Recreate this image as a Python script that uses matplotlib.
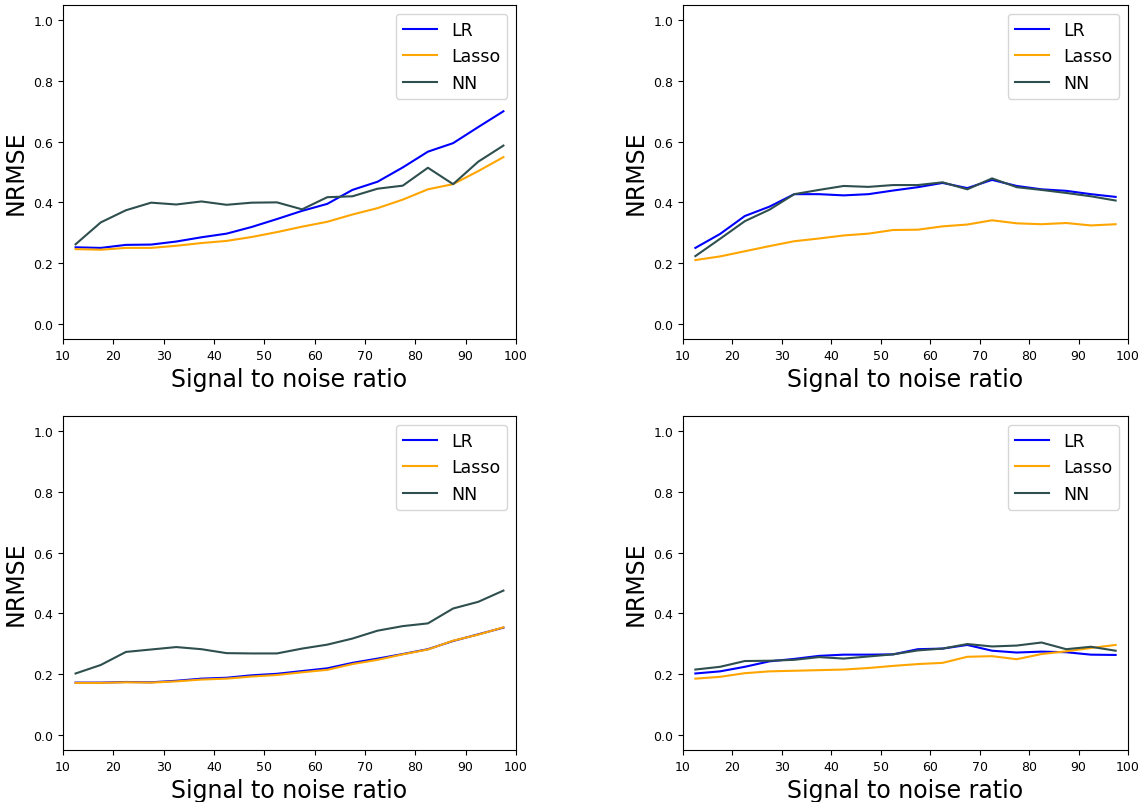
import numpy as np
import matplotlib
matplotlib.use("Agg")
import matplotlib.pyplot as plt

# SNR grid (bin centres)
snr = np.arange(12.5, 100, 5)

# Panel 1
lr_1 = [0.252, 0.250, 0.260, 0.261, 0.271, 0.285, 0.297, 0.319, 0.345, 0.372,
        0.395, 0.441, 0.468, 0.515, 0.567, 0.595, 0.648, 0.700]
lasso_1 = [0.246, 0.244, 0.250, 0.250, 0.257, 0.266, 0.273, 0.286, 0.302, 0.320,
           0.336, 0.360, 0.381, 0.409, 0.443, 0.460, 0.503, 0.549]
nn_1 = [0.262, 0.334, 0.374, 0.399, 0.393, 0.403, 0.392, 0.399, 0.400, 0.377,
        0.417, 0.420, 0.445, 0.455, 0.514, 0.460, 0.534, 0.587]

# Panel 2
lr_2 = [0.250, 0.296, 0.355, 0.386, 0.427, 0.427, 0.423, 0.427, 0.439, 0.450,
        0.464, 0.447, 0.474, 0.454, 0.443, 0.438, 0.427, 0.418]
lasso_2 = [0.210, 0.222, 0.239, 0.256, 0.272, 0.281, 0.291, 0.297, 0.309, 0.310,
           0.321, 0.327, 0.341, 0.331, 0.328, 0.332, 0.324, 0.328]
nn_2 = [0.223, 0.280, 0.338, 0.376, 0.427, 0.441, 0.454, 0.451, 0.457, 0.457,
        0.466, 0.443, 0.479, 0.450, 0.441, 0.431, 0.420, 0.406]

# Panel 3
lr_3 = [0.172, 0.172, 0.174, 0.173, 0.178, 0.185, 0.188, 0.196, 0.201, 0.210,
        0.219, 0.237, 0.251, 0.266, 0.282, 0.309, 0.331, 0.353]
lasso_3 = [0.171, 0.171, 0.173, 0.172, 0.176, 0.182, 0.185, 0.192, 0.197, 0.206,
           0.214, 0.233, 0.247, 0.265, 0.281, 0.310, 0.330, 0.354]
nn_3 = [0.202, 0.230, 0.273, 0.281, 0.289, 0.282, 0.269, 0.268, 0.268, 0.284,
        0.297, 0.317, 0.343, 0.358, 0.367, 0.416, 0.438, 0.475]

# Panel 4
lr_4 = [0.202, 0.209, 0.224, 0.242, 0.250, 0.260, 0.264, 0.264, 0.265, 0.282,
        0.284, 0.296, 0.277, 0.271, 0.274, 0.272, 0.264, 0.263]
lasso_4 = [0.185, 0.191, 0.203, 0.209, 0.211, 0.213, 0.215, 0.220, 0.227, 0.233,
           0.237, 0.257, 0.259, 0.249, 0.266, 0.275, 0.286, 0.296]
nn_4 = [0.215, 0.224, 0.243, 0.244, 0.247, 0.256, 0.251, 0.258, 0.265, 0.278,
        0.284, 0.299, 0.291, 0.294, 0.304, 0.282, 0.290, 0.277]

panels = [(lr_1, lasso_1, nn_1), (lr_2, lasso_2, nn_2),
          (lr_3, lasso_3, nn_3), (lr_4, lasso_4, nn_4)]

W, H = 1145, 803
fig = plt.figure(figsize=(W / 100, H / 100), dpi=100)

# axes boxes in pixels: left, top, right, bottom
boxes = [(63, 6, 516, 340), (683, 6, 1128, 340),
         (63, 417, 516, 751), (683, 417, 1128, 751)]

for (lr, lasso, nn), (l, t, r, b) in zip(panels, boxes):
    ax = fig.add_axes([l / W, (H - b) / H, (r - l) / W, (b - t) / H])
    ax.plot(snr, lr, color="blue", label="LR")
    ax.plot(snr, lasso, color="orange", label="Lasso")
    ax.plot(snr, nn, color="darkslategray", label="NN")
    ax.set_xlim(10, 100)
    ax.set_ylim(-0.05, 1.05)
    ax.set_xticks(np.arange(10, 101, 10))
    ax.set_yticks(np.arange(0, 1.01, 0.2))
    ax.tick_params(labelsize=9)
    ax.set_xlabel("Signal to noise ratio", fontsize=17)
    ax.set_ylabel("NRMSE", fontsize=17)
    ax.legend(loc="upper right", fontsize=12.5)

fig.savefig("out.png", dpi=100)
